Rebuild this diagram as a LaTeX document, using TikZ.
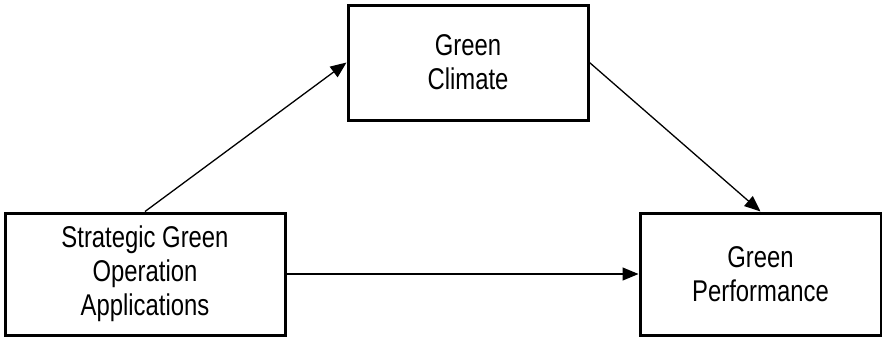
\documentclass[tikz,border=0pt]{standalone}
\usepackage{fontspec}
\setmainfont{Liberation Sans}[FakeStretch=0.795]
\usetikzlibrary{arrows.meta}
\newlength{\du}
\setlength{\du}{1pt}
\tikzset{
  boxnode/.style={draw, line width=3\du, inner sep=0pt, align=center,
    font=\fontsize{30}{34}\selectfont},
  link/.style={line width=1.3\du, -{Triangle[length=16pt,width=13pt]}}
}
\begin{document}
\begin{tikzpicture}[yscale=-1]
\useasboundingbox (0\du,0\du) rectangle (882\du,338\du);
% boxes
\node[boxnode, minimum width=280\du, minimum height=122\du] (sgoa) at (145\du,274\du){Strategic Green\\Operation\\Applications};
\node[boxnode, minimum width=240\du, minimum height=115\du] (gc) at (468\du,62.5\du){Green\\Climate};
\node[boxnode, minimum width=241\du, minimum height=122\du] (gp) at (760.5\du,274\du){Green\\Performance};
% arrows
\draw[link] (sgoa.north) -- (gc.west);
\draw[link] (gc.east) -- (gp.north);
\draw[link] (sgoa.east) -- (gp.west);
\end{tikzpicture}
\end{document}
